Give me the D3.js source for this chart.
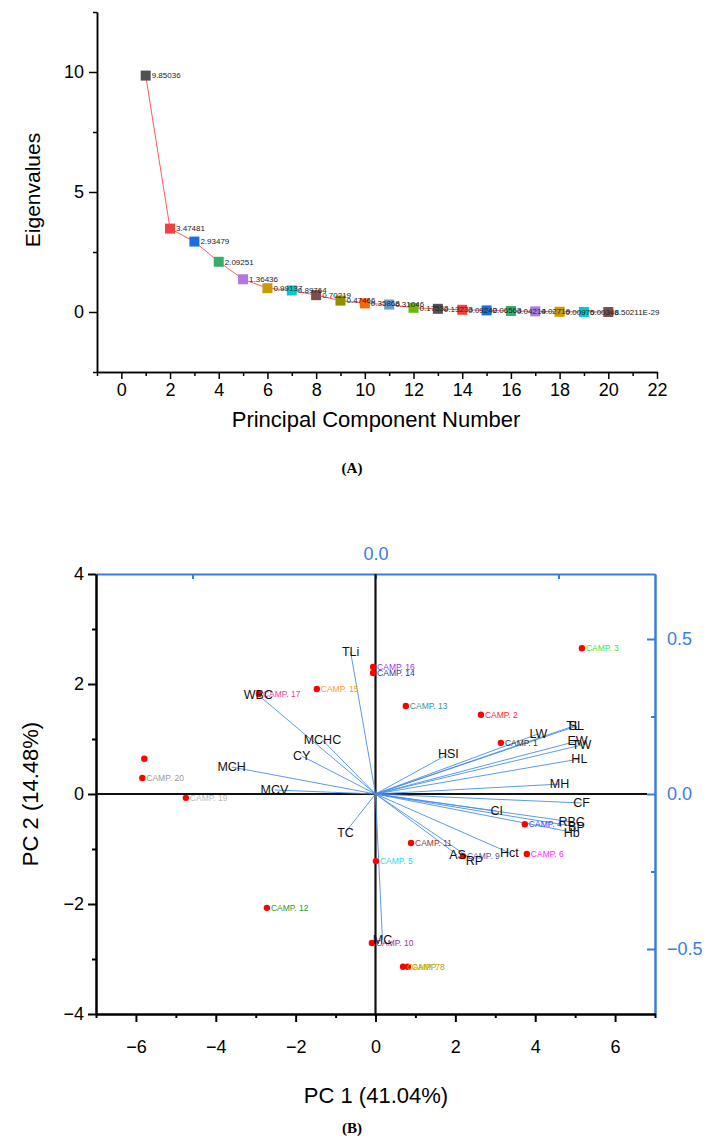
<!DOCTYPE html>
<html>
<head>
<meta charset="utf-8">
<script src="https://cdnjs.cloudflare.com/ajax/libs/d3/7.8.5/d3.min.js"></script>
<style>
body { margin: 0; background: #fff; }
text { font-family: "Liberation Sans", Arial, sans-serif; }
</style>
</head>
<body>
<script>

// ---- (A) scree plot data
var pcNumber = [1, 2, 3, 4, 5, 6, 7, 8, 9, 10, 11, 12, 13, 14, 15, 16, 17, 18, 19, 20];
var eigenvalues = [9.85036, 3.47481, 2.93479, 2.09251, 1.36436, 0.99137, 0.89764, 0.70219, 0.47466, 0.35868,
                   0.31046, 0.17532, 0.13233, 0.09242, 0.06563, 0.04214, 0.02719, 0.00975, 0.00348, 6.50211e-29];
var eigenLabels = ["9.85036", "3.47481", "2.93479", "2.09251", "1.36436", "0.99137", "0.89764", "0.70219", "0.47466", "0.35868",
                   "0.31046", "0.17532", "0.13233", "0.09242", "0.06563", "0.04214", "0.02719", "0.00975", "0.00348", "6.50211E-29"];
var screeColors = ["#515151", "#F14040", "#1A6FDF", "#37AD6B", "#B177DE", "#CC9900", "#00CBCC", "#7D4E4E", "#8E8E00", "#FB6501",
                   "#6699CC", "#6FB802", "#515151", "#F14040", "#1A6FDF", "#37AD6B", "#B177DE", "#CC9900", "#00CBCC", "#7D4E4E"];
var screeXTicks = [0, 2, 4, 6, 8, 10, 12, 14, 16, 18, 20, 22];
var screeXMinor = [-1, 1, 3, 5, 7, 9, 11, 13, 15, 17, 19, 21];
var screeYTicks = [0, 5, 10];
var screeYMinor = [-2.5, 2.5, 7.5, 12.5];

// ---- (B) biplot data: scores
var campNames = ["CAMP. 1", "CAMP. 2", "CAMP. 3", "CAMP. 4", "CAMP. 5", "CAMP. 6", "CAMP. 7", "CAMP. 8", "CAMP. 9", "CAMP. 10",
                 "CAMP. 11", "CAMP. 12", "CAMP. 13", "CAMP. 14", "CAMP. 15", "CAMP. 16", "CAMP. 17", "CAMP. 18", "CAMP. 19", "CAMP. 20"];
var campPC1 = [3.14, 2.64, 5.17, 3.74, 0.01, 3.79, 0.69, 0.81, 2.19, -0.09,
               0.89, -2.72, 0.76, -0.06, -1.47, -0.06, -2.92, -5.79, -4.75, -5.84];
var campPC2 = [0.93, 1.44, 2.65, -0.55, -1.22, -1.09, -3.14, -3.14, -1.13, -2.71,
               -0.89, -2.07, 1.60, 2.20, 1.91, 2.31, 1.82, 0.64, -0.07, 0.29];
var campColors = ["#333333", "#ff2a2a", "#33ee33", "#3344ff", "#22ddee", "#ff22ff", "#d9a400", "#aaaa00", "#5555aa", "#993399",
                  "#a03333", "#2e9a2e", "#2a9d9d", "#333399", "#ff9933", "#9933ff", "#ff3399", null, "#bbbbbb", "#999999"];

// ---- (B) biplot data: loadings
var varNames = ["TLi", "WBC", "MCHC", "CY", "MCH", "MCV", "TC", "MC", "HSI", "LW", "SL", "TL",
                "EW", "TW", "HL", "MH", "CF", "CI", "RBC", "BP", "Hb", "Hct", "AS", "RP"];
var loadPC1 = [-0.068, -0.320, -0.145, -0.202, -0.393, -0.276, -0.082, 0.019, 0.199, 0.445, 0.549, 0.541,
               0.552, 0.563, 0.557, 0.503, 0.563, 0.331, 0.536, 0.549, 0.536, 0.366, 0.224, 0.270];
var loadPC2 = [0.458, 0.319, 0.174, 0.123, 0.087, 0.013, -0.123, -0.471, 0.129, 0.194, 0.219, 0.219,
               0.171, 0.158, 0.113, 0.032, -0.029, -0.055, -0.090, -0.106, -0.123, -0.190, -0.197, -0.216];

var scoreXTicks = [-6, -4, -2, 0, 2, 4, 6];
var scoreXMinor = [-7, -5, -3, -1, 1, 3, 5, 7];
var scoreYTicks = [-4, -2, 0, 2, 4];
var scoreYMinor = [-3, -1, 1, 3];
var loadTopTicks = [-0.5, 0, 0.5];
var loadRightTicks = [-0.5, 0, 0.5];
var loadRightMinor = [-0.25, 0.25];

var blue = "#3b7ddd";

var svg = d3.select("body").append("svg")
    .attr("width", 705)
    .attr("height", 1140);

function styleAxis(g, color, width, fontSize) {
    g.select(".domain").attr("stroke", color).attr("stroke-width", width);
    g.selectAll(".tick line").attr("stroke", color).attr("stroke-width", width);
    g.selectAll(".tick text").attr("fill", color)
        .style("font-size", fontSize + "px")
        .style("font-family", "'Liberation Sans', Arial, sans-serif");
}

// =========================== (A) ===========================
var xA = d3.scaleLinear().domain([-1, 22]).range([97, 657]);
var yA = d3.scaleLinear().domain([-2.5, 12.5]).range([372, 12]);

var gA = svg.append("g");

gA.append("g").attr("transform", "translate(97,0)")
    .call(d3.axisLeft(yA).tickValues(screeYMinor).tickSize(4).tickSizeOuter(0).tickFormat(""))
    .call(styleAxis, "#000", 1.5, 18);
gA.append("g").attr("transform", "translate(97,0)")
    .call(d3.axisLeft(yA).tickValues(screeYTicks).tickSize(8).tickSizeOuter(0).tickPadding(5))
    .call(styleAxis, "#000", 1.5, 18);

gA.append("g").attr("transform", "translate(0,372)")
    .call(d3.axisBottom(xA).tickValues(screeXMinor).tickSize(4).tickSizeOuter(0).tickFormat(""))
    .call(styleAxis, "#000", 1.5, 18);
gA.append("g").attr("transform", "translate(0,372)")
    .call(d3.axisBottom(xA).tickValues(screeXTicks).tickSize(7).tickSizeOuter(0).tickPadding(4))
    .call(styleAxis, "#000", 1.5, 18);

var screeData = pcNumber.map(function(n, i) {
    return {pc: n, value: eigenvalues[i], label: eigenLabels[i], color: screeColors[i]};
});

gA.append("path")
    .datum(screeData)
    .attr("fill", "none")
    .attr("stroke", "#ff5a5a")
    .attr("stroke-width", 1)
    .attr("d", d3.line().x(function(d) { return xA(d.pc); }).y(function(d) { return yA(d.value); }));

gA.selectAll("rect.pt").data(screeData).enter().append("rect")
    .attr("class", "pt")
    .attr("x", function(d) { return xA(d.pc) - 5; })
    .attr("y", function(d) { return yA(d.value) - 5; })
    .attr("width", 10)
    .attr("height", 10)
    .attr("fill", function(d) { return d.color; });

gA.selectAll("text.val").data(screeData).enter().append("text")
    .attr("class", "val")
    .attr("x", function(d) { return xA(d.pc) + 6; })
    .attr("y", function(d) { return yA(d.value); })
    .attr("dy", "0.35em")
    .style("font-size", "8px")
    .attr("fill", "#222")
    .text(function(d) { return d.label; });

gA.append("text")
    .attr("transform", "translate(33,190) rotate(-90)")
    .attr("text-anchor", "middle")
    .attr("dy", "0.35em")
    .style("font-size", "21px")
    .text("Eigenvalues");

gA.append("text")
    .attr("x", 376).attr("y", 419)
    .attr("text-anchor", "middle")
    .attr("dy", "0.35em")
    .style("font-size", "22px")
    .text("Principal Component Number");

gA.append("text")
    .attr("x", 352).attr("y", 468)
    .attr("text-anchor", "middle")
    .attr("dy", "0.35em")
    .style("font-family", "'Liberation Serif', 'Times New Roman', serif")
    .style("font-weight", "bold")
    .style("font-size", "15px")
    .text("(A)");

// =========================== (B) ===========================
var xS = d3.scaleLinear().domain([-7, 7]).range([96, 655]);
var yS = d3.scaleLinear().domain([-4, 4]).range([1014, 574]);
var xL = d3.scaleLinear().domain([-0.7637, 0.7637]).range([96, 655]);
var yL = d3.scaleLinear().domain([-0.7097, 0.7097]).range([1014, 574]);

var gB = svg.append("g");

// top (loading) axis, blue
gB.append("g").attr("transform", "translate(0,574)")
    .call(d3.axisTop(xL).tickValues(loadTopTicks).tickSize(-5).tickSizeOuter(0).tickPadding(14)
        .tickFormat(function(v) { return v === 0 ? "0.0" : ""; }))
    .call(styleAxis, blue, 2, 18);

// right (loading) axis, blue
gB.append("g").attr("transform", "translate(655,0)")
    .call(d3.axisRight(yL).tickValues(loadRightMinor).tickSize(-4).tickSizeOuter(0).tickFormat(""))
    .call(styleAxis, blue, 2, 18);
gB.append("g").attr("transform", "translate(655,0)")
    .call(d3.axisRight(yL).tickValues(loadRightTicks).tickSize(-8).tickSizeOuter(0).tickPadding(12)
        .tickFormat(d3.format(".1f")))
    .call(styleAxis, blue, 2, 18);

// left (score) axis
gB.append("g").attr("transform", "translate(96,0)")
    .call(d3.axisLeft(yS).tickValues(scoreYMinor).tickSize(4).tickSizeOuter(0).tickFormat(""))
    .call(styleAxis, "#000", 2, 18);
gB.append("g").attr("transform", "translate(96,0)")
    .call(d3.axisLeft(yS).tickValues(scoreYTicks).tickSize(8).tickSizeOuter(0).tickPadding(4))
    .call(styleAxis, "#000", 2, 18);

// bottom (score) axis
gB.append("g").attr("transform", "translate(0,1014)")
    .call(d3.axisBottom(xS).tickValues(scoreXMinor).tickSize(4).tickSizeOuter(0).tickFormat(""))
    .call(styleAxis, "#000", 2, 18);
gB.append("g").attr("transform", "translate(0,1014)")
    .call(d3.axisBottom(xS).tickValues(scoreXTicks).tickSize(8).tickSizeOuter(0).tickPadding(18))
    .call(styleAxis, "#000", 2, 18);

// zero lines
gB.append("line")
    .attr("x1", xS(-7)).attr("x2", xS(7) - 8)
    .attr("y1", yS(0)).attr("y2", yS(0))
    .attr("stroke", "#111").attr("stroke-width", 2.2);
gB.append("line")
    .attr("x1", xS(0)).attr("x2", xS(0))
    .attr("y1", yS(4)).attr("y2", yS(-4))
    .attr("stroke", "#111").attr("stroke-width", 2.2);

// loading vectors
var loadData = varNames.map(function(n, i) {
    return {name: n, x: loadPC1[i], y: loadPC2[i]};
});

gB.selectAll("line.vec").data(loadData).enter().append("line")
    .attr("class", "vec")
    .attr("x1", xL(0)).attr("y1", yL(0))
    .attr("x2", function(d) { return xL(d.x); })
    .attr("y2", function(d) { return yL(d.y); })
    .attr("stroke", "#4a8fe6")
    .attr("stroke-width", 0.9);

// scores
var campData = campNames.map(function(n, i) {
    return {name: n, x: campPC1[i], y: campPC2[i], color: campColors[i]};
});

gB.selectAll("circle.camp").data(campData).enter().append("circle")
    .attr("class", "camp")
    .attr("cx", function(d) { return xS(d.x); })
    .attr("cy", function(d) { return yS(d.y); })
    .attr("r", 3.2)
    .attr("fill", "#ff0000");

gB.selectAll("text.camp").data(campData.filter(function(d) { return d.color; })).enter().append("text")
    .attr("class", "camp")
    .attr("x", function(d) { return xS(d.x) + 4; })
    .attr("y", function(d) { return yS(d.y); })
    .attr("dy", "0.35em")
    .style("font-size", "8.5px")
    .attr("fill", function(d) { return d.color; })
    .text(function(d) { return d.name; });

gB.selectAll("text.var").data(loadData).enter().append("text")
    .attr("class", "var")
    .attr("x", function(d) { return xL(d.x); })
    .attr("y", function(d) { return yL(d.y); })
    .attr("dy", "0.35em")
    .attr("text-anchor", "middle")
    .style("font-size", "12.5px")
    .attr("fill", "#111")
    .text(function(d) { return d.name; });

// titles
gB.append("text")
    .attr("x", 376).attr("y", 1095)
    .attr("text-anchor", "middle")
    .attr("dy", "0.35em")
    .style("font-size", "22px")
    .text("PC 1 (41.04%)");

gB.append("text")
    .attr("transform", "translate(30,794) rotate(-90)")
    .attr("text-anchor", "middle")
    .attr("dy", "0.35em")
    .style("font-size", "22px")
    .text("PC 2 (14.48%)");

gB.append("text")
    .attr("x", 352).attr("y", 1128)
    .attr("text-anchor", "middle")
    .attr("dy", "0.35em")
    .style("font-family", "'Liberation Serif', 'Times New Roman', serif")
    .style("font-weight", "bold")
    .style("font-size", "15px")
    .text("(B)");

</script>
</body>
</html>
